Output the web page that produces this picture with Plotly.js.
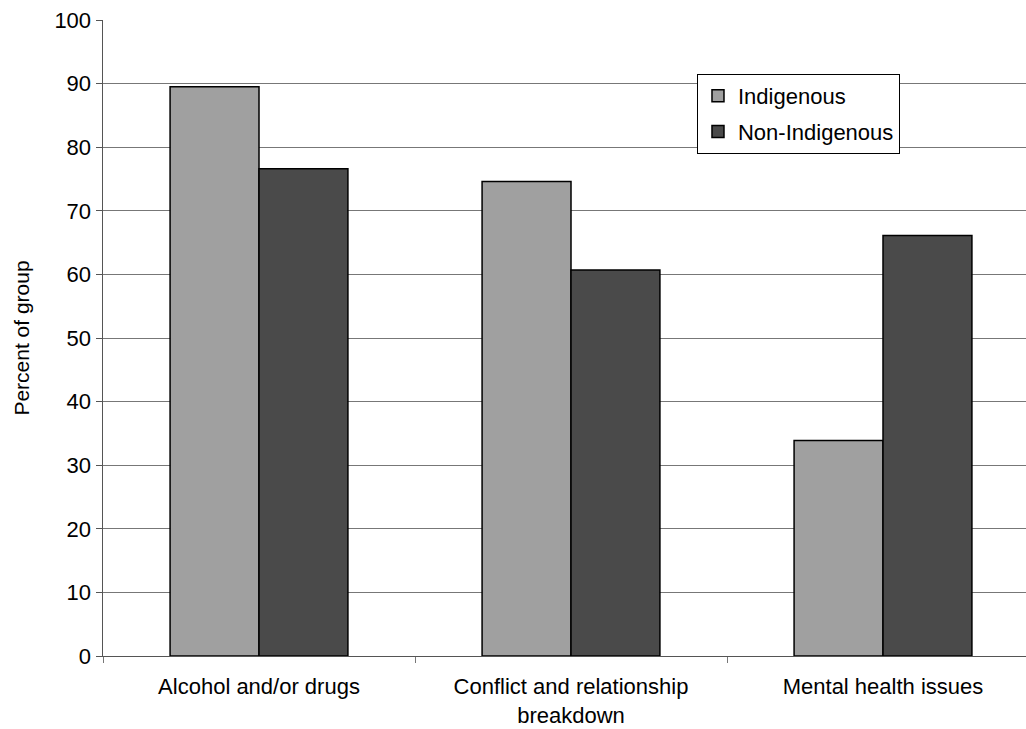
<!DOCTYPE html>
<html>
<head>
<meta charset="utf-8">
<script src="https://cdn.plot.ly/plotly-3.0.1.min.js"></script>
<style>
html, body { margin: 0; padding: 0; overflow: hidden; background: #fff; }
#chart { width: 1050px; height: 729px; }
</style>
</head>
<body>
<div id="chart"></div>
<script>
const categories = ["Alcohol and/or drugs", "Conflict and relationship<br>breakdown", "Mental health issues"];
const indigenous = [89.5, 74.6, 33.9];
const nonIndigenous = [76.6, 60.7, 66.1];
const yTicks = [0, 10, 20, 30, 40, 50, 60, 70, 80, 90, 100];

const font = { family: "Liberation Sans, Arial, sans-serif", color: "#000" };

const data = [
  { type: "bar", name: "Indigenous", x: categories, y: indigenous, legendgroup: "a",
    marker: { color: "#a0a0a0", line: { color: "#000", width: 1.5 } } },
  { type: "bar", name: "Non-Indigenous", x: categories, y: nonIndigenous, legendgroup: "b",
    marker: { color: "#4a4a4a", line: { color: "#000", width: 1.5 } } }
];

const layout = {
  width: 1050, height: 729,
  margin: { l: 103, r: 11, t: 20, b: 73 },
  paper_bgcolor: "#fff", plot_bgcolor: "#fff",
  barmode: "group", bargap: 0.43, bargroupgap: 0,
  font: Object.assign({ size: 22 }, font),
  showlegend: true,
  legend: {
    x: 0.6346, y: 0.915, xanchor: "left", yanchor: "top",
    bgcolor: "#fff", bordercolor: "#000", borderwidth: 1,
    font: Object.assign({ size: 22 }, font),
    itemwidth: 30,
    traceorder: "grouped",
    tracegroupgap: 4
  },
  xaxis: {
    type: "category",
    showline: true, linecolor: "#555", linewidth: 1,
    ticks: "outside", tickson: "boundaries", ticklen: 6, tickcolor: "#777",
    ticklabelstandoff: 11,
    showgrid: false, zeroline: false,
    tickfont: Object.assign({ size: 22 }, font)
  },
  yaxis: {
    range: [0, 100], tickvals: yTicks, ticktext: yTicks.map(String),
    showline: true, linecolor: "#555", linewidth: 1.5,
    ticks: "outside", ticklen: 6, tickcolor: "#555",
    showgrid: true, gridcolor: "#777", gridwidth: 1,
    zeroline: false,
    tickfont: Object.assign({ size: 22 }, font),
    title: { text: "Percent of group", font: Object.assign({ size: 21 }, font), standoff: 19 }
  }
};

Plotly.newPlot("chart", data, layout, { displayModeBar: false, staticPlot: true });
</script>
</body>
</html>
